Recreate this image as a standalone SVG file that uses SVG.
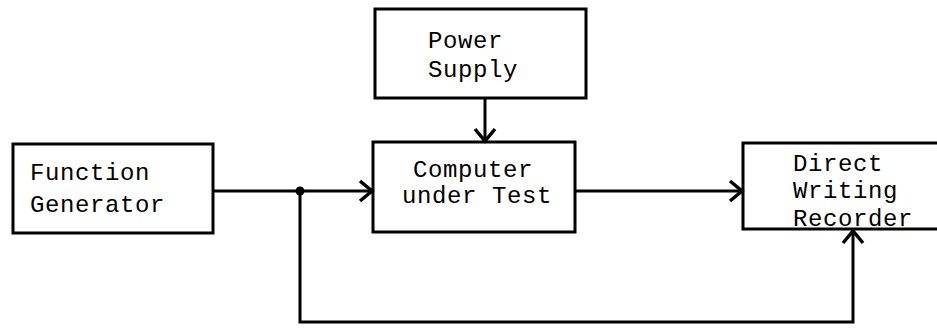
<svg xmlns="http://www.w3.org/2000/svg" width="937" height="331" viewBox="0 0 937 331">
  <style>
    .box { fill: none; stroke: #000; stroke-width: 3; }
    .wire { fill: none; stroke: #000; stroke-width: 3; }
    .label { font-family: "Liberation Mono", "Courier New", monospace; font-size: 24px; fill: #000; letter-spacing: 0.6px; }
  </style>
  <defs>
    <marker id="chev" markerUnits="userSpaceOnUse" markerWidth="20" markerHeight="24" refX="15" refY="12" orient="auto" viewBox="0 0 20 24">
      <polyline points="3,2 15,12 3,22" fill="none" stroke="#000" stroke-width="3.5" stroke-linejoin="miter"/>
    </marker>
  </defs>
  <rect width="937" height="331" fill="#fff"/>

  <g id="function-generator">
    <rect class="box" x="13" y="144" width="200" height="89"/>
    <text class="label" x="30" y="180">Function</text>
    <text class="label" x="30" y="212">Generator</text>
  </g>

  <g id="power-supply">
    <rect class="box" x="375" y="9" width="211" height="89"/>
    <text class="label" x="428" y="48">Power</text>
    <text class="label" x="428" y="77">Supply</text>
  </g>

  <g id="computer-under-test">
    <rect class="box" x="373" y="142" width="202" height="90"/>
    <text class="label" x="413" y="177">Computer</text>
    <text class="label" x="402" y="203">under Test</text>
  </g>

  <g id="direct-writing-recorder">
    <rect class="box" x="743" y="143" width="210" height="86"/>
    <text class="label" x="793" y="171">Direct</text>
    <text class="label" x="793" y="198">Writing</text>
    <text class="label" x="793" y="226">Recorder</text>
  </g>

  <g id="connectors">
    <path class="wire" d="M213,191 H372" marker-end="url(#chev)"/>
    <path class="wire" d="M485,98 V141" marker-end="url(#chev)"/>
    <path class="wire" d="M575,191 H742" marker-end="url(#chev)"/>
    <path class="wire" d="M300,191 V322 H853 V231" marker-end="url(#chev)"/>
    <circle cx="300" cy="191" r="4.5" fill="#000"/>
  </g>
</svg>
